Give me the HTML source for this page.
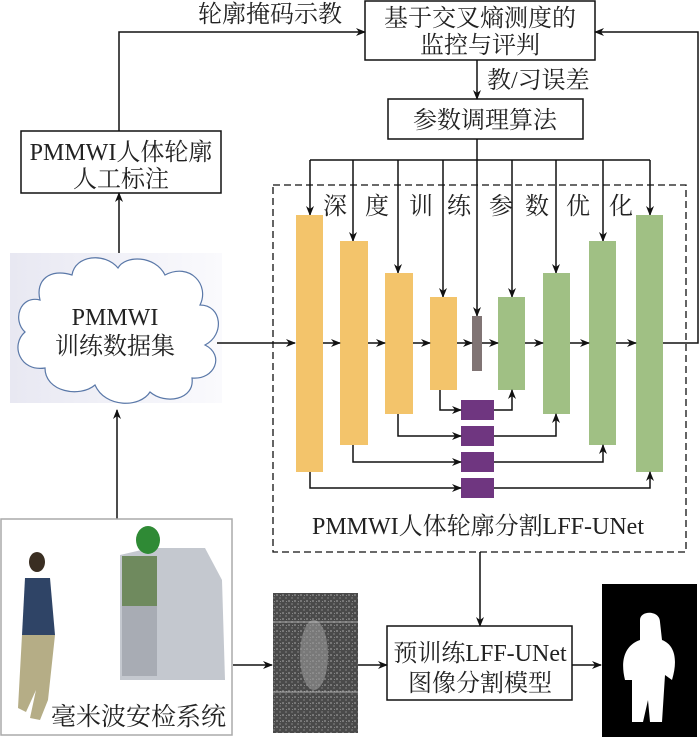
<!DOCTYPE html>
<html><head><meta charset="utf-8"><style>
html,body{margin:0;padding:0;background:#fff}
svg{display:block}
text{font-family:"Liberation Serif","Noto Serif CJK SC","Noto Sans CJK SC",serif;fill:#222}
</style></head><body>
<svg width="700" height="741" viewBox="0 0 700 741" xmlns="http://www.w3.org/2000/svg">
<defs>
<marker id="a" markerWidth="10" markerHeight="8" refX="9" refY="4" orient="auto" markerUnits="userSpaceOnUse"><path d="M0,0 L10,4 L0,8 L3,4 Z" fill="#111"/></marker>
<linearGradient id="cg" x1="0" y1="0" x2="1" y2="0"><stop offset="0" stop-color="#e8e8f2"/><stop offset="1" stop-color="#fafafd"/></linearGradient>
<pattern id="noise" width="6" height="6" patternUnits="userSpaceOnUse"><rect width="6" height="6" fill="#4a4a4a"/><rect x="0" y="0" width="2" height="2" fill="#777"/><rect x="3" y="3" width="2" height="2" fill="#666"/><rect x="4" y="1" width="1" height="1" fill="#888"/></pattern>
</defs>
<g stroke="#111" stroke-width="1.5" fill="none">
<rect x="365" y="1" width="230" height="59" fill="#fff"/>
<rect x="388" y="99" width="195" height="40" fill="#fff"/>
<rect x="21" y="131" width="200" height="62" fill="#fff"/>
<line x1="477" y1="60" x2="477" y2="99" marker-end="url(#a)"/>
<polyline points="119,131 119,32 365,32" marker-end="url(#a)"/>
<polyline points="663,343 698,343 698,32 595,32" marker-end="url(#a)"/>
<line x1="119" y1="268" x2="119" y2="193" marker-end="url(#a)"/>
<line x1="117" y1="519" x2="117" y2="410" marker-end="url(#a)"/>
<line x1="477" y1="139" x2="477" y2="316" marker-end="url(#a)"/>
<line x1="310" y1="160" x2="650" y2="160"/>
<line x1="310" y1="160" x2="310" y2="215" marker-end="url(#a)"/>
<line x1="353" y1="160" x2="353" y2="241" marker-end="url(#a)"/>
<line x1="398" y1="160" x2="398" y2="273" marker-end="url(#a)"/>
<line x1="443" y1="160" x2="443" y2="297" marker-end="url(#a)"/>
<line x1="512" y1="160" x2="512" y2="297" marker-end="url(#a)"/>
<line x1="556" y1="160" x2="556" y2="273" marker-end="url(#a)"/>
<line x1="603" y1="160" x2="603" y2="241" marker-end="url(#a)"/>
<line x1="650" y1="160" x2="650" y2="215" marker-end="url(#a)"/>
<rect x="273" y="185" width="413" height="367" stroke-dasharray="7,4" stroke-width="1.3"/>
<line x1="480" y1="552" x2="480" y2="626" marker-end="url(#a)"/>
<rect x="387" y="626" width="185" height="74" fill="#fff"/>
<line x1="233" y1="665" x2="272" y2="665" marker-end="url(#a)"/>
<line x1="358" y1="665" x2="387" y2="665" marker-end="url(#a)"/>
<line x1="572" y1="665" x2="601" y2="665" marker-end="url(#a)"/>
</g>
<rect x="10" y="253" width="212" height="150" fill="url(#cg)"/>
<path d="M40,300 C20,295 12,320 25,332 C10,345 20,372 45,368 C45,392 80,398 95,385 C105,408 140,408 150,392 C165,405 195,400 192,378 C215,380 225,355 205,345 C225,335 222,305 200,305 C210,285 190,262 165,275 C155,255 125,255 118,268 C105,252 75,255 72,275 C50,268 35,280 40,300 Z" fill="#fff" stroke="#5a78a8" stroke-width="1.2"/>
<line x1="217" y1="343" x2="295" y2="343" stroke="#111" stroke-width="1.5" marker-end="url(#a)"/>
<g>
<rect x="296" y="215" width="27" height="257" fill="#f3c46b"/>
<rect x="340" y="241" width="28" height="204" fill="#f3c46b"/>
<rect x="385" y="273" width="28" height="141" fill="#f3c46b"/>
<rect x="430" y="297" width="27" height="93" fill="#f3c46b"/>
<rect x="472" y="316" width="10" height="55" fill="#807474"/>
<rect x="498" y="297" width="27" height="93" fill="#a0c084"/>
<rect x="543" y="273" width="27" height="141" fill="#a0c084"/>
<rect x="589" y="241" width="27" height="204" fill="#a0c084"/>
<rect x="636" y="215" width="27" height="257" fill="#a0c084"/>
<rect x="461" y="400" width="33" height="20" fill="#6f3680"/>
<rect x="461" y="426" width="33" height="20" fill="#6f3680"/>
<rect x="461" y="452" width="33" height="20" fill="#6f3680"/>
<rect x="461" y="478" width="33" height="20" fill="#6f3680"/>
</g>
<g stroke="#111" stroke-width="1.5" fill="none">
<line x1="323" y1="343" x2="340" y2="343" marker-end="url(#a)"/>
<line x1="368" y1="343" x2="385" y2="343" marker-end="url(#a)"/>
<line x1="413" y1="343" x2="430" y2="343" marker-end="url(#a)"/>
<line x1="457" y1="343" x2="472" y2="343" marker-end="url(#a)"/>
<line x1="482" y1="343" x2="498" y2="343" marker-end="url(#a)"/>
<line x1="525" y1="343" x2="543" y2="343" marker-end="url(#a)"/>
<line x1="570" y1="343" x2="589" y2="343" marker-end="url(#a)"/>
<line x1="616" y1="343" x2="636" y2="343" marker-end="url(#a)"/>
<polyline points="440,390 440,410 461,410" marker-end="url(#a)"/>
<polyline points="398,414 398,436 461,436" marker-end="url(#a)"/>
<polyline points="353,445 353,462 461,462" marker-end="url(#a)"/>
<polyline points="310,472 310,488 461,488" marker-end="url(#a)"/>
<polyline points="494,410 512,410 512,390" marker-end="url(#a)"/>
<polyline points="494,436 556,436 556,414" marker-end="url(#a)"/>
<polyline points="494,462 603,462 603,445" marker-end="url(#a)"/>
<polyline points="494,488 650,488 650,472" marker-end="url(#a)"/>
</g>
<rect x="1" y="519" width="231" height="216" fill="#fff" stroke="#aaa" stroke-width="1.5"/>
<ellipse cx="37" cy="562" rx="8" ry="10" fill="#3a2e22"/>
<path d="M25,578 L50,578 L55,635 L22,635 Z" fill="#2f4466"/>
<path d="M22,635 L55,635 L48,700 L40,720 L30,718 L36,690 L26,712 L18,708 Z" fill="#b5ad86"/>
<path d="M120,555 L150,548 L205,548 L222,580 L225,680 L120,680 Z" fill="#c4c8cf"/>
<rect x="122" y="556" width="35" height="50" fill="#6f8a5e"/>
<rect x="122" y="606" width="35" height="70" fill="#a8acb4"/>
<ellipse cx="148" cy="540" rx="12" ry="14" fill="#2f8a35"/>
<rect x="273" y="593" width="85" height="140" fill="url(#noise)"/>
<ellipse cx="314" cy="655" rx="14" ry="35" fill="#999" opacity="0.6"/>
<line x1="273" y1="622" x2="358" y2="622" stroke="#ccc" stroke-width="0.7"/>
<line x1="273" y1="692" x2="358" y2="692" stroke="#ccc" stroke-width="0.7"/>
<rect x="602" y="584" width="95" height="153" fill="#000"/>
<path d="M640,620 C640,610 660,610 660,622 L662,640 C675,645 678,660 672,680 L665,675 L662,722 L650,722 L648,700 L643,722 L632,722 L632,680 L625,680 C620,660 625,645 640,640 Z" fill="#fff"/>
<g font-size="24">
<text x="198" y="22">轮廓掩码示教</text>
<text x="480" y="26" text-anchor="middle">基于交叉熵测度的</text>
<text x="480" y="53" text-anchor="middle">监控与评判</text>
<text x="487" y="88">教/习误差</text>
<text x="485" y="128" text-anchor="middle">参数调理算法</text>
<text x="121" y="160" text-anchor="middle">PMMWI人体轮廓</text>
<text x="121" y="187" text-anchor="middle">人工标注</text>
<text x="115" y="325" text-anchor="middle">PMMWI</text>
<text x="115" y="354" text-anchor="middle">训练数据集</text>
<text x="480" y="661" text-anchor="middle">预训练LFF-UNet</text>
<text x="480" y="691" text-anchor="middle">图像分割模型</text>
<text x="478" y="534" text-anchor="middle">PMMWI人体轮廓分割LFF-UNet</text>
<text x="51" y="725" font-size="25">毫米波安检系统</text>
</g>
<g font-size="24">
<text x="323" y="214">深</text><text x="365" y="214">度</text><text x="409" y="214">训</text><text x="447" y="214">练</text><text x="489" y="214">参</text><text x="525" y="214">数</text><text x="566" y="214">优</text><text x="609" y="214">化</text>
</g>
</svg>
</body></html>
